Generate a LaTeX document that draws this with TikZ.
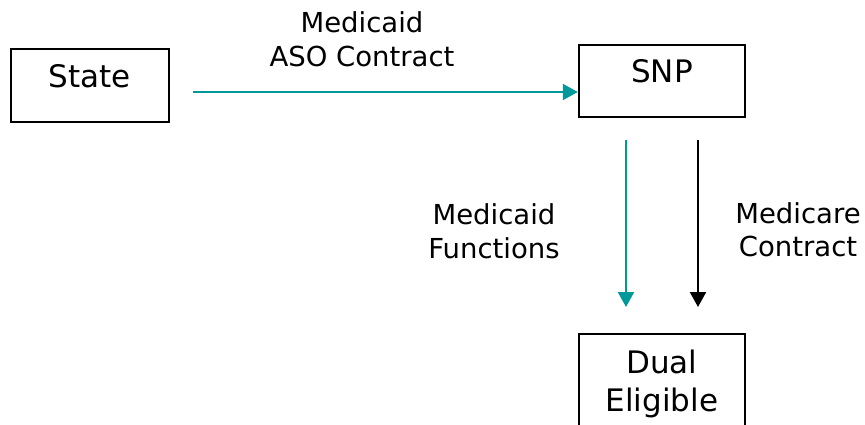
\documentclass[tikz,border=0pt]{standalone}
\usepackage{fontspec}
\setmainfont{DejaVu Sans}
\usetikzlibrary{arrows.meta}
\definecolor{tealarrow}{RGB}{0,153,153}
\begin{document}
\begin{tikzpicture}[x=1pt,y=-1pt,
  boxnode/.style={draw=black,line width=2.4pt,inner sep=0pt,font=\fontsize{31}{38}\selectfont,
    text height=23pt,text depth=19pt},
  labelnode/.style={inner sep=0pt,align=center,font=\fontsize{27.5}{33.5}\selectfont},
  conn/.style={line width=2.2pt,-{Triangle[length=15pt,width=16pt]}}]
\useasboundingbox (0,0) rectangle (865,425);
\node[boxnode,minimum width=158pt,minimum height=73pt] (state) at (90,85.5) {State};
\node[boxnode,minimum width=166pt,minimum height=72pt] (snp) at (662,81) {SNP};
\node[draw=black,line width=2.4pt,inner xsep=0pt,inner ysep=16pt,align=center,
  minimum width=166pt,anchor=north,font=\fontsize{31}{38}\selectfont] (dual) at (662,333) {Dual\\Eligible};
\node[labelnode] (l1) at (362,39) {Medicaid\\ASO Contract};
\node[labelnode] (l2) at (494,231) {Medicaid\\Functions};
\node[labelnode] (l3) at (798,229.5) {Medicare\\Contract};
\coordinate (a1) at (193,92);
\coordinate (b1) at (626,140);
\coordinate (b2) at (626,307);
\coordinate (c1) at (698,140);
\coordinate (c2) at (698,307);
\draw[conn,tealarrow] (a1) -- (snp.west |- a1);
\draw[conn,tealarrow] (b1) -- (b2);
\draw[conn,black] (c1) -- (c2);
\end{tikzpicture}
\end{document}
